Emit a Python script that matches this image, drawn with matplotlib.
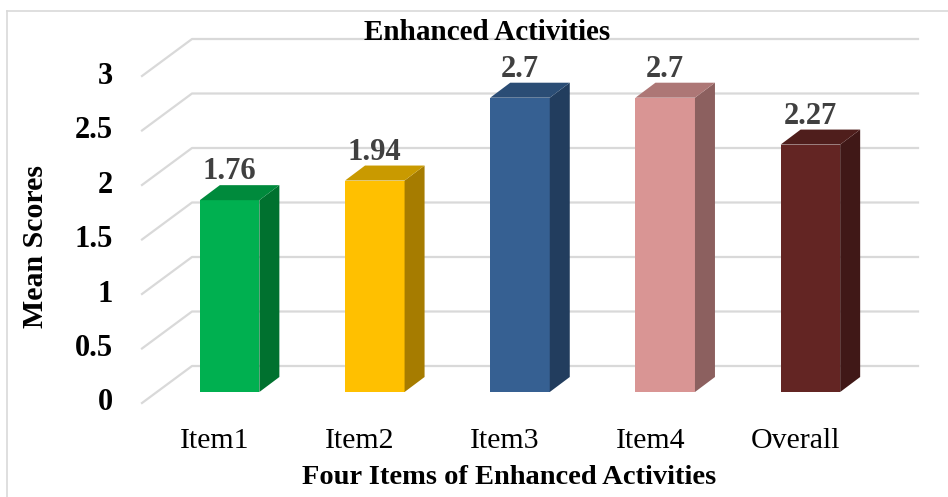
import matplotlib.pyplot as plt
from matplotlib.patches import Polygon
from matplotlib.lines import Line2D

categories = ["Item1", "Item2", "Item3", "Item4", "Overall"]
scores = [1.76, 1.94, 2.7, 2.7, 2.27]
value_labels = ["1.76", "1.94", "2.7", "2.7", "2.27"]
y_ticks = [0, 0.5, 1, 1.5, 2, 2.5, 3]
y_tick_labels = ["0", "0.5", "1", "1.5", "2", "2.5", "3"]

front_colors = ["#00B050", "#FFC000", "#366092", "#D99594", "#632523"]
side_colors = ["#00712F", "#A67C00", "#223D5E", "#8C605F", "#401817"]
top_colors = ["#008A3C", "#C99A00", "#2B4D75", "#AD7776", "#4F1E1C"]

plt.rcParams['font.family'] = ['Liberation Serif', 'DejaVu Serif']

W, H = 948, 497
fig = plt.figure(figsize=(W / 100, H / 100), dpi=100)

# axes = plane of the bar front faces
ax = fig.add_axes([157 / W, 105 / H, 726 / W, 327 / H])
ax.set_xlim(-0.5, len(categories) - 0.5)
ax.set_ylim(0, 3)
ax.axis("off")

# pixel offsets -> data units (depth of the pseudo 3D box)
px_x = (ax.get_xlim()[1] - ax.get_xlim()[0]) / 726
px_y = (ax.get_ylim()[1] - ax.get_ylim()[0]) / 327
front = (-15 * px_x, -11 * px_y)
back = (35 * px_x, 26 * px_y)
bar_depth = (20 * px_x, 15 * px_y)
bar_w = 0.41

grid_kw = dict(color="#D9D9D9", lw=1.6, clip_on=False, zorder=1)
x0, x1 = ax.get_xlim()
for v, lab in zip(y_ticks, y_tick_labels):
    xs = [x0 + front[0], x0 + back[0], x1 + back[0]]
    ys = [v + front[1], v + back[1], v + back[1]]
    ax.add_line(Line2D(xs, ys, **grid_kw))
    ax.annotate(lab, (x0 + front[0], v + front[1]), xytext=(-29, 0),
                textcoords="offset pixels", ha="right", va="center",
                fontsize=22, fontweight="bold", color="black",
                annotation_clip=False)

for i, (val, lab) in enumerate(zip(scores, value_labels)):
    l, r = i - bar_w / 2, i + bar_w / 2
    dx, dy = bar_depth
    ax.add_patch(Polygon([(l, 0), (r, 0), (r, val), (l, val)],
                         closed=True, fc=front_colors[i], ec="none",
                         clip_on=False, zorder=3))
    ax.add_patch(Polygon([(r, 0), (r + dx, dy), (r + dx, val + dy), (r, val)],
                         closed=True, fc=side_colors[i], ec="none",
                         clip_on=False, zorder=3))
    ax.add_patch(Polygon([(l, val), (r, val), (r + dx, val + dy), (l + dx, val + dy)],
                         closed=True, fc=top_colors[i], ec="none",
                         clip_on=False, zorder=3))
    ax.annotate(lab, (i, val + dy), xytext=(0, 6), textcoords="offset pixels",
                ha="center", va="baseline", fontsize=22, fontweight="bold",
                color="#404040", annotation_clip=False, zorder=4)
    ax.annotate(categories[i], (i + front[0], front[1]), xytext=(0, -38),
                textcoords="offset pixels", ha="center", va="center",
                fontsize=21.5, color="black", annotation_clip=False)

fig.text(487.5 / W, 1 - 32 / H, "Enhanced Activities", ha="center", va="center",
         fontsize=21, fontweight="bold")
fig.text(509.5 / W, 1 - 478 / H, "Four Items of Enhanced Activities",
         ha="center", va="center", fontsize=20.5, fontweight="bold")
fig.text(36 / W, 1 - 247 / H, "Mean Scores", ha="center", va="center",
         rotation=90, fontsize=21.5, fontweight="bold")

# chart area border (top and left edges visible)
fig.add_artist(Line2D([7 / W, 1], [1 - 11 / H, 1 - 11 / H],
                      transform=fig.transFigure, color="#D9D9D9", lw=1.2))
fig.add_artist(Line2D([7 / W, 7 / W], [0, 1 - 11 / H],
                      transform=fig.transFigure, color="#D9D9D9", lw=1.2))

fig.savefig("out.png", dpi=100)
